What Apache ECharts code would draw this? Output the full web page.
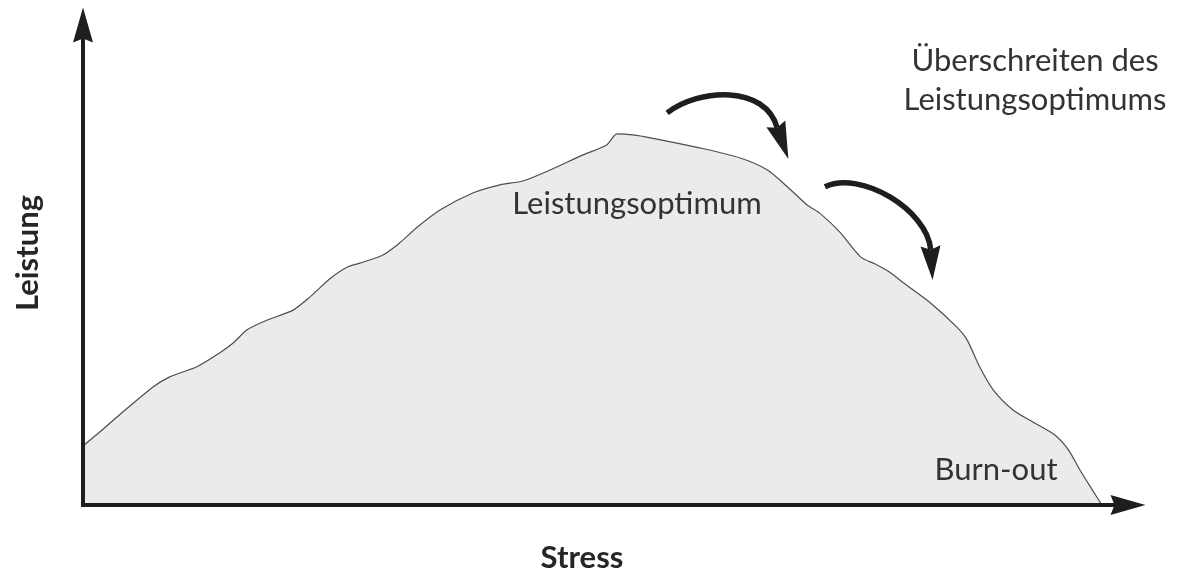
<!DOCTYPE html>
<html>
<head>
<meta charset="utf-8">
<script src="https://cdn.jsdelivr.net/npm/echarts@6/dist/echarts.min.js"></script>
<style>
  html, body { margin: 0; padding: 0; background: #fff; }
  #main { width: 1189px; height: 577px; }
</style>
</head>
<body>
<div id="main"></div>
<script>
// curve, both axes 0..100
const stress = [0, 1.6, 3.5, 6.7, 8.3, 10.9, 13.1, 14.4, 15.7, 17.6, 20.1, 21.7, 23.6, 25.3, 26.5,
  28.7, 30.3, 32.0, 34.2, 37.3, 39.9, 42.1, 44.7, 47.8, 50.1, 51.1, 52.6, 54.3, 59.0, 62.9,
  65.5, 67.4, 69.3, 70.5, 72.4, 74.4, 75.8, 77.2, 78.5, 81.1, 83.6, 84.6, 85.8, 87.1, 89.0,
  90.9, 93.0, 94.3, 95.4, 96.6, 97.5];
const leistung = [12.3, 15.2, 18.8, 24.6, 26.7, 28.8, 31.7, 33.8, 36.5, 38.5, 40.6, 43.3, 47.1, 49.6, 50.4,
  52.1, 54.6, 57.9, 61.5, 65.0, 66.7, 67.5, 69.8, 72.9, 75.0, 77.3, 77.1, 76.5, 74.4, 72.3,
  69.8, 66.3, 62.5, 60.8, 56.9, 51.7, 50.2, 48.5, 46.3, 42.1, 37.1, 34.4, 28.8, 24.0, 19.8,
  17.3, 14.6, 11.5, 7.3, 3.1, 0];

// curved arrows in data coordinates: start, control 1, control 2, end of shaft, tip
const arrow1 = [[55.9, 81.7], [59.0, 86.9], [65.3, 87.5], [66.3, 79.4], [67.5, 72.1]];
const arrow2 = [[71.0, 66.3], [74.4, 69.8], [80.8, 61.5], [81.1, 54.0], [81.3, 46.9]];

const chartDom = document.getElementById("main");
const myChart = echarts.init(chartDom);
const font = "Lato, 'Open Sans', sans-serif";
const axisColor = "#1e1e1e";

let points = [];
for (let i = 0; i < stress.length; i++) {
  points.push([stress[i], leistung[i]]);
}

const axisCommon = {
  type: "value",
  min: 0,
  max: 100,
  z: 5,
  axisLine: {
    show: true,
    symbol: ["none", "path://M10,0 L20,35 L10,31 L0,35 Z"],
    symbolSize: [20, 35],
    lineStyle: { color: axisColor, width: 4, cap: "square" },
  },
  axisTick: { show: false },
  axisLabel: { show: false },
  splitLine: { show: false },
};

let option = {
  animation: false,
  backgroundColor: "#fff",
  grid: { left: 83, right: 61, top: 25, bottom: 72 },
  xAxis: Object.assign({}, axisCommon),
  yAxis: Object.assign({}, axisCommon),
  series: [
    {
      type: "line",
      data: points,
      smooth: 0.25,
      symbol: "none",
      lineStyle: { color: "#4d4d4d", width: 1.2 },
      areaStyle: { color: "#ebebeb", opacity: 1 },
    },
  ],
};

myChart.setOption(option);

function arrowGraphics(arr) {
  const p = arr.map((d) => myChart.convertToPixel({ gridIndex: 0 }, d));
  const tip = p[4];
  const base = p[3];
  const dx = tip[0] - base[0];
  const dy = tip[1] - base[1];
  const len = Math.sqrt(dx * dx + dy * dy);
  const nx = -dy / len;
  const ny = dx / len;
  const hw = 10;
  return [
    {
      type: "bezierCurve",
      shape: {
        x1: p[0][0], y1: p[0][1],
        cpx1: p[1][0], cpy1: p[1][1],
        cpx2: p[2][0], cpy2: p[2][1],
        x2: base[0] + (dx / len) * 4, y2: base[1] + (dy / len) * 4,
      },
      style: { stroke: "#1e1e1e", lineWidth: 5.5, fill: null },
      z: 10,
    },
    {
      type: "polygon",
      shape: {
        points: [
          tip,
          [base[0] + nx * hw, base[1] + ny * hw],
          [base[0] + (dx / len) * 4, base[1] + (dy / len) * 4],
          [base[0] - nx * hw, base[1] - ny * hw],
        ],
      },
      style: { fill: "#1e1e1e" },
      z: 10,
    },
  ];
}

const textStyle = { fontFamily: font, fontSize: 31, fill: "#333" };
const nameStyle = { fontFamily: font, fontSize: 31, fontWeight: "bold", fill: "#262626" };

myChart.setOption({
  graphic: [
    ...arrowGraphics(arrow1),
    ...arrowGraphics(arrow2),
    {
      type: "text",
      x: 582, y: 558,
      style: Object.assign({ text: "Stress", align: "center", verticalAlign: "middle" }, nameStyle),
      z: 10,
    },
    {
      type: "text",
      x: 28, y: 253,
      rotation: Math.PI / 2,
      style: Object.assign({ text: "Leistung", align: "center", verticalAlign: "middle" }, nameStyle),
      z: 10,
    },
    {
      type: "text",
      x: 637, y: 204,
      style: Object.assign({ text: "Leistungsoptimum", align: "center", verticalAlign: "middle" }, textStyle),
      z: 10,
    },
    {
      type: "text",
      x: 996, y: 470,
      style: Object.assign({ text: "Burn-out", align: "center", verticalAlign: "middle" }, textStyle),
      z: 10,
    },
    {
      type: "text",
      x: 1035, y: 80,
      style: Object.assign(
        { text: "Überschreiten des\nLeistungsoptimums", align: "center", verticalAlign: "middle", lineHeight: 39 },
        textStyle
      ),
      z: 10,
    },
  ],
});
</script>
</body>
</html>
